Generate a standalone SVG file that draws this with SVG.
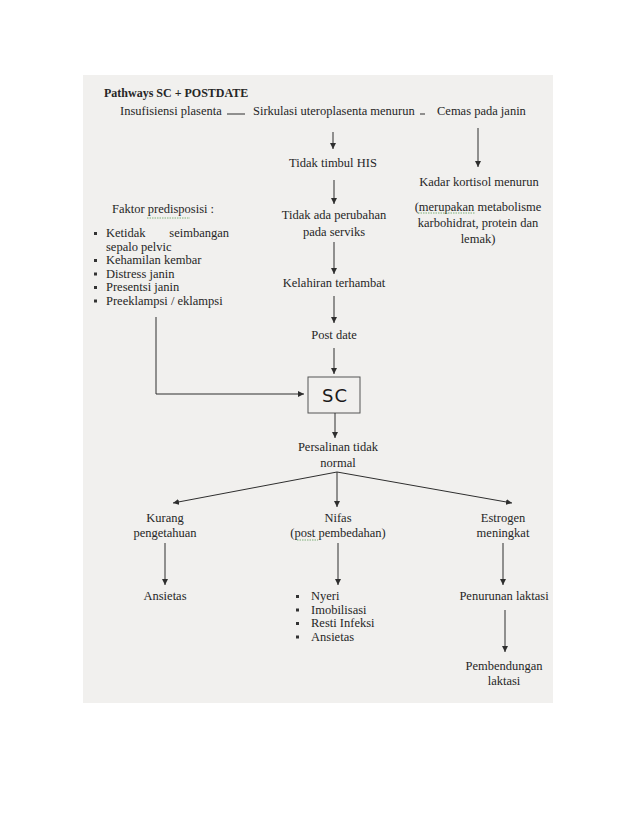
<svg xmlns="http://www.w3.org/2000/svg" width="638" height="826" viewBox="0 0 638 826">
<style>
text{font-family:"Liberation Serif","Times New Roman",serif;font-size:12.5px;fill:#262626}
.c{text-anchor:middle}
.t{font-weight:bold;font-size:12px}
.ln{stroke:#2e2e2e;stroke-width:1;fill:none}
.sq{stroke:#7fb07a;stroke-width:1;fill:none;stroke-dasharray:1.5 1}
.b{fill:#333}
</style>
<defs>
<marker id="ah" viewBox="0 0 10 10" refX="10" refY="5" markerWidth="6" markerHeight="6" orient="auto" markerUnits="userSpaceOnUse">
<path d="M0,0 L10,5 L0,10 z" fill="#2e2e2e"/>
</marker>
</defs>
<rect x="0" y="0" width="638" height="826" fill="#ffffff"/>
<rect x="83" y="75" width="470" height="628" fill="#f1f0ee"/>

<g id="title"><text class="t" x="104" y="97">Pathways SC + POSTDATE</text></g>
<g id="insufisiensi"><text x="120" y="115">Insufisiensi plasenta</text></g>
<g id="sirkulasi"><text x="253" y="115">Sirkulasi uteroplasenta menurun</text></g>
<g id="cemas"><text x="437" y="115">Cemas pada janin</text></g>
<g id="tidak-his"><text class="c" x="333" y="167">Tidak timbul HIS</text></g>
<g id="kadar"><text class="c" x="479" y="186">Kadar kortisol menurun</text>
<text class="c" x="478" y="211">(merupakan metabolisme</text>
<text class="c" x="478" y="227">karbohidrat, protein dan</text>
<text class="c" x="478" y="243">lemak)</text>
<path class="sq" d="M418,213 H475"/></g>
<g id="tidak-ada"><text class="c" x="334" y="219">Tidak ada perubahan</text>
<text class="c" x="334" y="236">pada serviks</text></g>
<g id="kelahiran"><text class="c" x="334" y="287">Kelahiran terhambat</text></g>
<g id="postdate"><text class="c" x="334" y="339">Post date</text></g>
<g id="faktor"><text x="112" y="213">Faktor predisposisi :</text>
<path class="sq" d="M147,218 H190"/>
<rect class="b" x="94" y="232" width="3" height="3"/>
<text x="106" y="237">Ketidak</text>
<text x="229" y="237" style="text-anchor:end">seimbangan</text>
<text x="106" y="250.5">sepalo pelvic</text>
<rect class="b" x="94" y="259" width="3" height="3"/>
<text x="106" y="264">Kehamilan kembar</text>
<rect class="b" x="94" y="272.5" width="3" height="3"/>
<text x="106" y="277.5">Distress janin</text>
<rect class="b" x="94" y="286" width="3" height="3"/>
<text x="106" y="291">Presentsi janin</text>
<rect class="b" x="94" y="299.5" width="3" height="3"/>
<text x="106" y="304.5">Preeklampsi / eklampsi</text></g>
<g id="sc"><rect x="308" y="377" width="52" height="36" fill="#f1f0ee" stroke="#555" stroke-width="1"/>
<text class="c" x="335" y="401.5" style="font-family:'DejaVu Sans',sans-serif;font-size:18px;letter-spacing:1px;fill:#1a1a1a">SC</text></g>
<g id="persalinan"><text class="c" x="338" y="451">Persalinan tidak</text>
<text class="c" x="338" y="467">normal</text></g>
<g id="kurang"><text class="c" x="165" y="522">Kurang</text>
<text class="c" x="165" y="537">pengetahuan</text></g>
<g id="nifas"><text class="c" x="338" y="522">Nifas</text>
<text class="c" x="338" y="537">(post pembedahan)</text>
<path class="sq" d="M297,540 H318"/></g>
<g id="estrogen"><text class="c" x="503" y="522">Estrogen</text>
<text class="c" x="503" y="537">meningkat</text></g>
<g id="ansietas"><text class="c" x="165" y="600">Ansietas</text></g>
<g id="nyeri-list">
<rect class="b" x="296" y="595" width="3" height="3"/><text x="311" y="600">Nyeri</text>
<rect class="b" x="296" y="608.5" width="3" height="3"/><text x="311" y="613.5">Imobilisasi</text>
<rect class="b" x="296" y="622" width="3" height="3"/><text x="311" y="627">Resti Infeksi</text>
<rect class="b" x="296" y="635.5" width="3" height="3"/><text x="311" y="640.5">Ansietas</text></g>
<g id="penurunan"><text class="c" x="504" y="600">Penurunan laktasi</text></g>
<g id="pembendungan"><text class="c" x="504" y="670">Pembendungan</text>
<text class="c" x="504" y="685">laktasi</text></g>

<g id="connectors">
<path class="ln" d="M227,114 H245"/>
<path class="ln" d="M420,114 H425"/>
<path class="ln" d="M333,132 V149" marker-end="url(#ah)"/>
<path class="ln" d="M478,128 V167" marker-end="url(#ah)"/>
<path class="ln" d="M334,180 V204" marker-end="url(#ah)"/>
<path class="ln" d="M334,242 V274" marker-end="url(#ah)"/>
<path class="ln" d="M334,296 V323" marker-end="url(#ah)"/>
<path class="ln" d="M334,348 V374" marker-end="url(#ah)"/>
<path class="ln" d="M156,317 V394 H304" marker-end="url(#ah)"/>
<path class="ln" d="M335,413 V438" marker-end="url(#ah)"/>
<path class="ln" d="M337,472 L173,503" marker-end="url(#ah)"/>
<path class="ln" d="M337,472 V507" marker-end="url(#ah)"/>
<path class="ln" d="M337,472 L512,503" marker-end="url(#ah)"/>
<path class="ln" d="M165,543 V585" marker-end="url(#ah)"/>
<path class="ln" d="M338,543 V585" marker-end="url(#ah)"/>
<path class="ln" d="M503,543 V585" marker-end="url(#ah)"/>
<path class="ln" d="M505,610 V652" marker-end="url(#ah)"/>
</g>
</svg>
